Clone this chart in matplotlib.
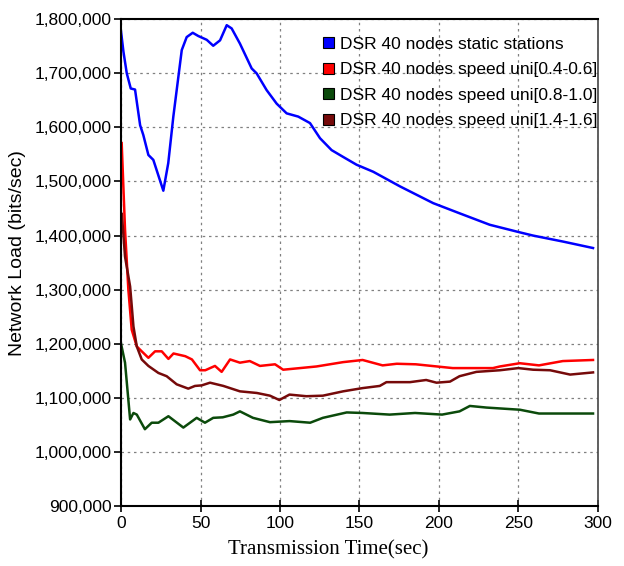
import numpy as np
import matplotlib
matplotlib.use("Agg")
import matplotlib.pyplot as plt
from matplotlib.patches import Patch
from matplotlib.ticker import FuncFormatter

# values
t_static = [0, 1.5, 3.6, 6.1, 8.8, 12, 14, 17.2, 20.3, 26.6, 29.7, 32.9, 38.2, 41.3, 45.1, 48.6,
            53.9, 58, 62.3, 66.5, 69.6, 74.8, 82.2, 85.3, 91.6, 97.9, 104.2, 111.5, 118.9, 125.2,
            132.5, 140, 148.2, 158.7, 175.5, 196.4, 213.2, 232, 250.9, 259.3, 278, 297]
load_static = [1777000, 1740000, 1700000, 1672000, 1670000, 1604000, 1586000, 1549000, 1540000,
               1483000, 1534000, 1620000, 1743000, 1767000, 1775000, 1769000, 1762000, 1751000,
               1761000, 1789000, 1783000, 1755000, 1709000, 1700000, 1669000, 1644000, 1626000,
               1620000, 1608000, 1580000, 1558000, 1545000, 1531000, 1518000, 1491000, 1460000,
               1441000, 1420000, 1406000, 1400000, 1389000, 1377000]

t_red = [0.4, 2.5, 4.6, 6.7, 9.9, 13, 17.2, 21.4, 25.6, 29.8, 33, 40.4, 44.6, 49.7, 53, 59.1,
         63.3, 68.6, 74.8, 81, 87.4, 96.9, 102, 112.6, 123, 139.7, 152, 164.6, 173.5, 185.5,
         208.7, 223.6, 234, 238.4, 250.9, 263, 278, 297]
load_red = [1571000, 1411000, 1300000, 1226000, 1195000, 1186000, 1174000, 1186000, 1186000,
            1172000, 1182000, 1177000, 1171000, 1151000, 1151000, 1159000, 1148000, 1171000,
            1165000, 1168000, 1159000, 1162000, 1152000, 1155000, 1158000, 1166000, 1170000,
            1160000, 1163000, 1162000, 1155000, 1155000, 1155000, 1158000, 1164000, 1160000,
            1168000, 1170000]

t_green = [0, 2.5, 5.7, 7.8, 9.9, 15, 19.3, 23.5, 29.8, 39.2, 47.6, 52.8, 58, 64, 70.6, 74.8,
           83, 93.7, 106, 119, 127, 142, 152, 169, 185, 202, 213, 219.5, 230, 251, 263, 280, 297]
load_green = [1200000, 1165000, 1060000, 1072000, 1069000, 1042000, 1054000, 1054000, 1066000,
              1045000, 1063000, 1054000, 1063000, 1064000, 1069000, 1075000, 1063000, 1055000,
              1057000, 1054000, 1063000, 1073000, 1072000, 1069000, 1072000, 1069000, 1075000,
              1085000, 1082000, 1078000, 1071000, 1071000, 1071000]

t_maroon = [0.5, 2.5, 5.7, 7.8, 9.9, 13, 17.2, 23.5, 28.7, 35, 42.3, 46.5, 50.7, 56, 64.4, 74.8,
            85.4, 93.7, 99.6, 106, 116.6, 127, 139.7, 152, 162.8, 167, 181.8, 192, 198.5, 207,
            213, 223.6, 238.4, 250, 259.3, 270, 282.6, 297]
load_maroon = [1440000, 1361000, 1306000, 1232000, 1195000, 1171000, 1159000, 1146000, 1140000,
               1125000, 1117000, 1122000, 1123000, 1128000, 1122000, 1112000, 1109000, 1104000,
               1096000, 1106000, 1103000, 1104000, 1112000, 1118000, 1122000, 1129000, 1129000,
               1133000, 1128000, 1130000, 1140000, 1148000, 1151000, 1155000, 1152000, 1151000,
               1143000, 1147000]

labels = ["DSR 40 nodes static stations", "DSR 40 nodes speed uni[0.4-0.6]",
          "DSR 40 nodes speed uni[0.8-1.0]", "DSR 40 nodes speed uni[1.4-1.6]"]
colors = ["#0000ff", "#ff0000", "#0b4a0b", "#760a0a"]

fig = plt.figure(figsize=(6.24, 5.66), dpi=100)
ax = fig.add_axes([0.194, 0.106, 0.764, 0.860])

series = [(t_static, load_static), (t_red, load_red), (t_green, load_green), (t_maroon, load_maroon)]
for (t, v), c in zip(series, colors):
    ax.plot(t, v, color=c, lw=1.8, solid_joinstyle="round")

ax.set_xlim(0, 300)
ax.set_ylim(900000, 1800000)
ax.set_xticks(np.arange(0, 301, 50))
ax.set_yticks(np.arange(900000, 1800001, 100000))
ax.yaxis.set_major_formatter(FuncFormatter(lambda v, p: f"{int(v):,}"))
ax.grid(True, color="#808080", ls=(0, (2, 3)), lw=0.9)

for lab in ax.get_yticklabels() + ax.get_xticklabels():
    lab.set_fontfamily("Liberation Sans")
    lab.set_fontsize(12.5)
ax.tick_params(axis="y", direction="out", length=5, width=1.2, pad=2)
ax.tick_params(axis="x", direction="inout", length=8, width=1.2, pad=3)
for s in ["left", "bottom", "top"]:
    ax.spines[s].set_linewidth(1.5)
ax.spines["right"].set_linewidth(1.2)
ax.spines["right"].set_color("#444444")

ax.set_ylabel("Network Load (bits/sec)", fontfamily="Liberation Sans", fontsize=14)
ax.yaxis.set_label_coords(-0.2, 0.52)
ax.set_xlabel("Transmission Time(sec)", fontfamily="Liberation Serif", fontsize=15)
ax.xaxis.set_label_coords(0.435, -0.07)

handles = [Patch(facecolor=c, edgecolor="black", lw=0.8) for c in colors]
ax.legend(handles, labels, loc="upper left", bbox_to_anchor=(0.41, 0.978), frameon=False,
          prop={"family": "Liberation Sans", "size": 12.5}, handlelength=0.6, handleheight=0.6,
          handletextpad=0.35, labelspacing=0.6, borderaxespad=0)

fig.savefig("out.png", dpi=100)
